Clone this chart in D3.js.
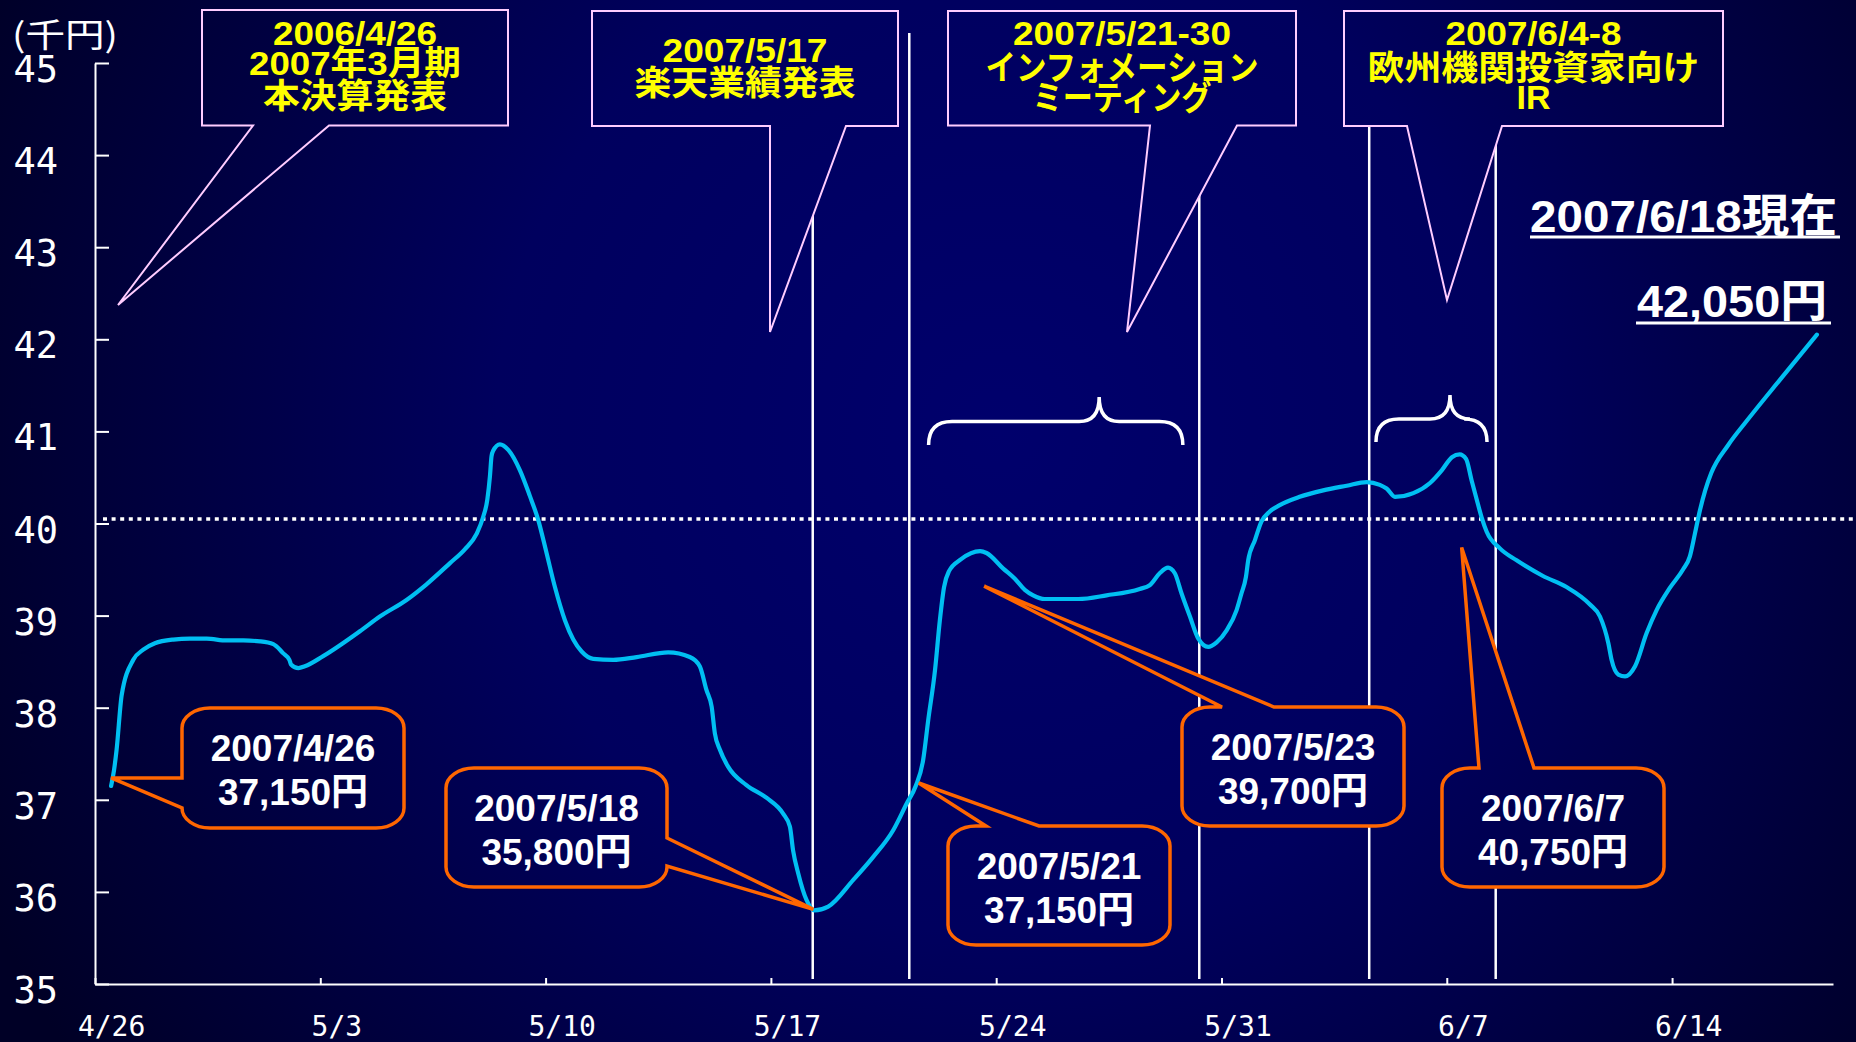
<!DOCTYPE html>
<html>
<head>
<meta charset="utf-8">
<script src="https://cdn.jsdelivr.net/npm/d3@7"></script>
<style>
  html, body { margin: 0; padding: 0; background: #000030; overflow: hidden; }
  svg { display: block; }
</style>
</head>
<body>
<svg id="chart" width="1856" height="1042"></svg>
<script>
// ---- data -------------------------------------------------------------
// Share price trace: position in days counted from 2007/4/26 00:00, price in thousand yen
const dayPos = [
  0.5, 0.59, 0.67, 0.83, 1.19, 1.5, 1.86, 2.43, 2.95, 3.47, 4.09, 4.61, 5.13, 5.54, 5.85,
  6.04, 6.09, 6.32, 6.52, 7.09, 8.23, 8.85, 9.68, 10.3, 11.03, 11.49, 11.86, 12.06, 12.19,
  12.27, 12.32, 12.37, 12.58, 12.84, 13.2, 13.51, 13.77, 14.03, 14.29, 14.6, 14.86, 15.12,
  15.48, 16.1, 16.83, 17.81, 18.48, 18.79, 19.0, 19.16, 19.26, 19.42, 19.67, 20.24, 20.87,
  21.38, 21.59, 21.69, 21.85, 22.11, 22.35, 22.78, 23.56, 24.18, 24.8, 25.22, 25.5, 25.73,
  25.89, 26.1, 26.25, 26.38, 26.53, 26.9, 27.5, 27.7, 28.22, 28.58, 28.89, 29.15, 29.51,
  30.55, 31.43, 32.46, 32.77, 33.08, 33.34, 33.55, 33.76, 34.02, 34.28, 34.59, 34.85, 35.16,
  35.47, 35.62, 35.76, 35.83, 36.04, 36.24, 36.5, 36.81, 37.43, 38.16, 38.89, 39.51, 39.92,
  40.13, 40.39, 40.96, 41.48, 41.85, 42.16, 42.4, 42.6, 42.77, 42.93, 43.08, 43.24, 43.65,
  44.17, 44.99, 45.72, 46.45, 46.76, 47.02, 47.12, 47.33, 47.54, 47.85, 48.21, 48.52, 48.93,
  49.34, 49.55, 49.71, 49.87, 50.03, 50.22, 50.74, 51.31, 52.35, 53.5
];
const prices = [
  37.15, 37.32, 37.54, 38.14, 38.52, 38.63, 38.70, 38.74, 38.75, 38.75, 38.73, 38.73, 38.72, 38.69, 38.59,
  38.52, 38.47, 38.43, 38.45, 38.56, 38.83, 38.99, 39.17, 39.34, 39.57, 39.72, 39.89, 40.07, 40.26,
  40.51, 40.73, 40.79, 40.86, 40.80, 40.58, 40.30, 40.04, 39.68, 39.31, 38.95, 38.74, 38.61,
  38.53, 38.52, 38.55, 38.60, 38.55, 38.45, 38.19, 38.01, 37.72, 37.54, 37.36, 37.16, 37.02,
  36.85, 36.71, 36.45, 36.20, 35.91, 35.80, 35.84, 36.13, 36.38, 36.67, 36.96, 37.15, 37.43,
  37.87, 38.41, 38.95, 39.31, 39.48, 39.61, 39.70, 39.68, 39.51, 39.40, 39.28, 39.22, 39.18,
  39.18, 39.22, 39.29, 39.33, 39.46, 39.52, 39.46, 39.24, 38.99, 38.75, 38.66, 38.71, 38.84,
  39.06, 39.24, 39.42, 39.60, 39.82, 40.02, 40.13, 40.20, 40.29, 40.36, 40.41, 40.45, 40.42,
  40.38, 40.29, 40.33, 40.44, 40.58, 40.72, 40.75, 40.70, 40.47, 40.26, 40.07, 39.91, 39.73,
  39.60, 39.43, 39.31, 39.12, 38.99, 38.70, 38.52, 38.36, 38.34, 38.45, 38.81, 39.06, 39.30,
  39.50, 39.64, 39.89, 40.15, 40.36, 40.55, 40.85, 41.11, 41.56, 42.05
];

const startDate = new Date(2007, 3, 26);
const yTicks = [35, 36, 37, 38, 39, 40, 41, 42, 43, 44, 45];
const xTickDays = [0, 7, 14, 21, 28, 35, 42, 49];
const xTickLabels = ["4/26", "5/3", "5/10", "5/17", "5/24", "5/31", "6/7", "6/14"];
const referencePrice = 40.05;

// Event markers (vertical rules), in days from 4/26
const eventLineDays = [22.3, 25.3, 34.31, 39.59, 43.52];

// Event titles shown in the boxes along the top
const eventTitles = [
  ["2006/4/26", "2007年3月期", "本決算発表"],
  ["2007/5/17", "楽天業績発表"],
  ["2007/5/21-30", "インフォメーション", "ミーティング"],
  ["2007/6/4-8", "欧州機関投資家向け", "IR"]
];

// Price call-outs: day position and price (thousand yen)
const calloutDays = [0.5, 22.35, 25.5, 27.5, 42.4];
const calloutPrices = [37.15, 35.80, 37.15, 39.70, 40.75];

// Braces over event periods: [start, peak, end] in days
const braceRanges = [[25.9, 31.2, 33.8], [39.8, 42.1, 43.25]];

// ---- layout -----------------------------------------------------------
const W = 1856, H = 1042;
const svg = d3.select("#chart");
const x = d3.scaleLinear().domain([0, 54]).range([95, 1833]);
const y = d3.scaleLinear().domain([35, 45]).range([984, 63]);

const boldFont = "'Liberation Sans', Arial, 'Noto Sans CJK JP', sans-serif";
const monoFont = "'DejaVu Sans Mono', 'Noto Sans CJK JP', monospace";

const fmtPrice = v => d3.format(",")(Math.round(v * 1000)) + "円";
const fmtDate = d => {
  const t = d3.timeDay.offset(startDate, Math.floor(d));
  return `${t.getFullYear()}/${t.getMonth() + 1}/${t.getDate()}`;
};

// background
const defs = svg.append("defs");
const grad = defs.append("radialGradient")
  .attr("id", "bg").attr("gradientUnits", "userSpaceOnUse")
  .attr("cx", 1000).attr("cy", 430).attr("r", 1120);
grad.append("stop").attr("offset", 0).attr("stop-color", "#00006c");
grad.append("stop").attr("offset", 0.45).attr("stop-color", "#00005e");
grad.append("stop").attr("offset", 1).attr("stop-color", "#000026");
svg.append("rect").attr("width", W).attr("height", H).attr("fill", "url(#bg)");

// event rules
svg.append("g").selectAll("line").data(eventLineDays).join("line")
  .attr("x1", d => x(d)).attr("x2", d => x(d))
  .attr("y1", 33).attr("y2", 979)
  .attr("stroke", "#ffffff").attr("stroke-width", 2.5);

// reference (dotted) line
svg.append("line")
  .attr("x1", 103).attr("x2", W)
  .attr("y1", y(referencePrice)).attr("y2", y(referencePrice))
  .attr("stroke", "#ffffff").attr("stroke-width", 3.5)
  .attr("stroke-dasharray", "4 4.6");

// y axis
const gy = svg.append("g")
  .attr("transform", `translate(${x.range()[0]},0)`)
  .call(d3.axisLeft(y).tickValues(yTicks).tickSizeInner(-14).tickSizeOuter(0).tickFormat(d3.format("d")))
  .attr("font-family", monoFont).attr("font-size", 37);
gy.select(".domain").attr("stroke", "#fff").attr("stroke-width", 2);
gy.selectAll(".tick line").attr("stroke", "#fff").attr("stroke-width", 2);
gy.selectAll(".tick text").attr("x", -37).attr("dy", null).attr("y", 18.5).attr("fill", "#fff");

// x axis
const gx = svg.append("g")
  .attr("transform", `translate(0,${y.range()[0]})`)
  .call(d3.axisBottom(x).tickValues(xTickDays).tickSizeInner(-6).tickSizeOuter(0)
    .tickFormat((d, i) => xTickLabels[i]))
  .attr("font-family", monoFont).attr("font-size", 28);
gx.select(".domain").attr("stroke", "#fff").attr("stroke-width", 2);
gx.selectAll(".tick line").attr("stroke", "#fff").attr("stroke-width", 2);
gx.selectAll(".tick text")
  .attr("x", x(0.5) - x(0)).attr("dy", null).attr("y", 51.5).attr("fill", "#fff");

// unit label
svg.append("text")
  .attr("x", 12).attr("y", 47)
  .attr("textLength", 106).attr("lengthAdjust", "spacingAndGlyphs")
  .attr("font-family", "'Noto Sans CJK JP', sans-serif").attr("font-size", 33)
  .attr("fill", "#fff").text("(千円)");

// price line
const series = dayPos.map((d, i) => ({ d, v: prices[i] }));
svg.append("path").datum(series)
  .attr("fill", "none").attr("stroke", "#00bff2").attr("stroke-width", 4.2)
  .attr("stroke-linejoin", "round").attr("stroke-linecap", "round")
  .attr("d", d3.line().x(p => x(p.d)).y(p => y(p.v)).curve(d3.curveMonotoneX));

// braces
const braceStyle = [{ yh: 421.5, yp: 397, ye: 445 }, { yh: 419, yp: 395, ye: 442 }];
svg.append("g").selectAll("path").data(braceRanges).join("path")
  .attr("fill", "none").attr("stroke", "#fff").attr("stroke-width", 3.5)
  .attr("d", (b, i) => {
    const [x0, xp, x1] = b.map(x);
    const { yh, yp, ye } = braceStyle[i];
    const r = ye - yh, c = 20;
    return `M${x0},${ye}Q${x0},${yh} ${x0 + r},${yh}L${xp - c},${yh}Q${xp},${yh} ${xp},${yp}` +
           `Q${xp},${yh} ${xp + c},${yh}L${x1 - r},${yh}Q${x1},${yh} ${x1},${ye}`;
  });

// event title boxes (top)
const topBoxes = [
  { x: 202, y: 10, w: 306, h: 115.5, base: [253, 329], tip: [118, 305], rows: [32.5, 63, 96], len: [164, 212, 184] },
  { x: 592, y: 11, w: 306, h: 115, base: [770, 846], tip: [770, 332], rows: [50, 83], len: [165, 221] },
  { x: 948, y: 11, w: 348, h: 114.5, base: [1150, 1237], tip: [1127, 332], rows: [33, 67.5, 98], len: [218, 273, 179] },
  { x: 1344, y: 11, w: 379, h: 115, base: [1407, 1502], tip: [1447, 300], rows: [33, 67.5, 97], len: [176, 332, 34] }
];
topBoxes.forEach((b, i) => {
  const x1 = b.x + b.w, y1 = b.y + b.h;
  svg.append("path")
    .attr("d", `M${b.x},${b.y}L${x1},${b.y}L${x1},${y1}L${b.base[1]},${y1}L${b.tip[0]},${b.tip[1]}` +
               `L${b.base[0]},${y1}L${b.x},${y1}Z`)
    .attr("fill", "url(#bg)").attr("stroke", "#ffccff").attr("stroke-width", 2);
  const cx = b.x + b.w / 2;
  eventTitles[i].forEach((t, j) => {
    svg.append("text")
      .attr("x", cx).attr("y", b.rows[j] + 12)
      .attr("text-anchor", "middle")
      .attr("textLength", b.len[j]).attr("lengthAdjust", "spacingAndGlyphs")
      .attr("font-family", boldFont).attr("font-weight", "bold").attr("font-size", 34)
      .attr("fill", "#ffff00").text(t);
  });
});

// price call-outs (bottom)
const calloutBoxes = [
  { x: 182, y: 708, w: 222, h: 120, side: "left", base: [778, 808], off: [0, -8] },
  { x: 446, y: 768, w: 221, h: 119, side: "right", base: [838, 866], off: [-1, -1] },
  { x: 948, y: 826, w: 222, h: 119, side: "top", base: [986, 1039], off: [3, -3] },
  { x: 1182, y: 707, w: 222, h: 119, side: "top", base: [1222, 1274], off: [4, 35] },
  { x: 1442, y: 768, w: 222, h: 119, side: "top", base: [1479, 1534], off: [2, 93] }
];
function calloutPath(b, tip) {
  const rx = 28, ry = 20;
  const x0 = b.x, y0 = b.y, x1 = b.x + b.w, y1 = b.y + b.h;
  let p = `M${x0 + rx},${y0}`;
  if (b.side === "top") p += `L${b.base[0]},${y0}L${tip[0]},${tip[1]}L${b.base[1]},${y0}`;
  p += `L${x1 - rx},${y0}A${rx},${ry} 0 0 1 ${x1},${y0 + ry}`;
  if (b.side === "right") p += `L${x1},${b.base[0]}L${tip[0]},${tip[1]}L${x1},${b.base[1]}`;
  p += `L${x1},${y1 - ry}A${rx},${ry} 0 0 1 ${x1 - rx},${y1}`;
  p += `L${x0 + rx},${y1}A${rx},${ry} 0 0 1 ${x0},${y1 - ry}`;
  if (b.side === "left") p += `L${x0},${b.base[1]}L${tip[0]},${tip[1]}L${x0},${b.base[0]}`;
  p += `L${x0},${y0 + ry}A${rx},${ry} 0 0 1 ${x0 + rx},${y0}Z`;
  return p;
}
calloutDays.forEach((d, i) => {
  const b = calloutBoxes[i];
  const tip = [x(d) + b.off[0], y(calloutPrices[i]) + b.off[1]];
  svg.append("path").attr("d", calloutPath(b, tip))
    .attr("fill", "url(#bg)").attr("stroke", "#ff6600").attr("stroke-width", 3.5)
    .attr("stroke-linejoin", "miter");
  const cx = b.x + b.w / 2;
  [fmtDate(d), fmtPrice(calloutPrices[i])].forEach((t, j) => {
    svg.append("text")
      .attr("x", cx).attr("y", b.y + (j === 0 ? 40 : 84) + 13)
      .attr("text-anchor", "middle")
      .attr("font-family", boldFont).attr("font-weight", "bold").attr("font-size", 37)
      .attr("fill", "#fff").text(t);
  });
});

// latest price
const lastDay = dayPos[dayPos.length - 1];
const lastPrice = prices[prices.length - 1];
const latest = [
  { text: fmtDate(lastDay) + "現在", x: 1530, base: 232, len: 307, ux: [1530, 1840], uy: 235.5 },
  { text: fmtPrice(lastPrice), x: 1637, base: 317, len: 190, ux: [1636, 1831], uy: 321.5 }
];
latest.forEach(t => {
  svg.append("text")
    .attr("x", t.x).attr("y", t.base)
    .attr("textLength", t.len).attr("lengthAdjust", "spacingAndGlyphs")
    .attr("font-family", boldFont).attr("font-weight", "bold").attr("font-size", 45)
    .attr("fill", "#fff").text(t.text);
  svg.append("rect")
    .attr("x", t.ux[0]).attr("y", t.uy).attr("width", t.ux[1] - t.ux[0]).attr("height", 3)
    .attr("fill", "#fff");
});
</script>
</body>
</html>
